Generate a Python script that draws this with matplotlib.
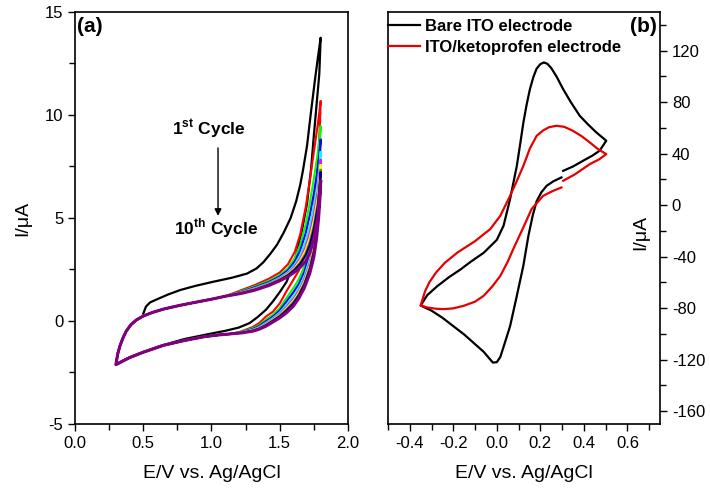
import matplotlib
matplotlib.use('Agg')
import matplotlib.pyplot as plt
from matplotlib.ticker import MultipleLocator, FormatStrFormatter

plt.rcParams['font.family'] = ['Liberation Sans', 'DejaVu Sans']
plt.rcParams['axes.unicode_minus'] = False
plt.rcParams['mathtext.fontset'] = 'custom'
plt.rcParams['mathtext.rm'] = 'Liberation Sans'
plt.rcParams['mathtext.bf'] = 'Liberation Sans:bold'

# ---- panel (a): repeated cycles ----
# 1st cycle (black), starts at 0.5 V
first_e = [0.50, 0.52, 0.55, 0.60, 0.68, 0.77, 0.88, 1.01, 1.15, 1.26, 1.33, 1.38, 1.43, 1.48,
           1.53, 1.58, 1.62, 1.65, 1.67, 1.70, 1.73, 1.76, 1.78, 1.80,
           1.79, 1.77, 1.75, 1.73, 1.70, 1.66, 1.62, 1.58, 1.55, 1.50, 1.45, 1.40, 1.34, 1.28,
           1.20, 1.10, 0.99, 0.80, 0.62, 0.50, 0.40, 0.30,
           0.305, 0.315, 0.33, 0.35, 0.375, 0.41, 0.45, 0.48]
first_i = [0.35, 0.70, 0.90, 1.05, 1.28, 1.50, 1.70, 1.90, 2.10, 2.30, 2.55, 2.85, 3.25, 3.70,
           4.30, 5.00, 5.80, 6.60, 7.30, 8.50, 10.20, 11.80, 12.80, 13.75,
           12.00, 10.50, 9.00, 7.40, 5.70, 4.30, 3.20, 2.40, 1.90, 1.40, 0.95, 0.55, 0.20, -0.10,
           -0.32, -0.48, -0.62, -0.88, -1.22, -1.50, -1.76, -2.10,
           -1.90, -1.55, -1.20, -0.85, -0.50, -0.18, 0.05, 0.15]

# cycles 2..10 share the low-potential part of the loop
low_rev_e = [1.15, 1.05, 0.95, 0.80, 0.65, 0.50, 0.40, 0.30]
low_rev_i = [-0.62, -0.68, -0.76, -0.95, -1.18, -1.52, -1.78, -2.12]
low_fwd_e = [0.305, 0.315, 0.33, 0.35, 0.375, 0.41, 0.45, 0.50, 0.57, 0.65, 0.77, 0.90, 1.01, 1.10]
low_fwd_i = [-1.90, -1.55, -1.20, -0.85, -0.50, -0.18, 0.05, 0.24, 0.42, 0.58, 0.76, 0.93, 1.07, 1.20]

# high-potential arms, one row per cycle (2nd .. 10th)
fwd_e = [1.22, 1.32, 1.42, 1.50, 1.56, 1.61, 1.65, 1.69, 1.72, 1.75, 1.78, 1.80]
fwd_i = [
    [1.50, 1.75, 2.05, 2.35, 2.75, 3.35, 4.20, 5.50, 6.80, 8.20, 9.60, 10.65],
    [1.45, 1.68, 1.95, 2.23, 2.56, 3.05, 3.70, 4.69, 5.72, 6.90, 8.21, 9.43],
    [1.42, 1.64, 1.89, 2.16, 2.46, 2.88, 3.43, 4.25, 5.12, 6.18, 7.44, 8.79],
    [1.40, 1.60, 1.84, 2.10, 2.37, 2.74, 3.19, 3.86, 4.60, 5.55, 6.77, 8.20],
    [1.38, 1.57, 1.81, 2.06, 2.31, 2.64, 3.03, 3.60, 4.25, 5.13, 6.32, 7.80],
    [1.37, 1.55, 1.79, 2.03, 2.28, 2.58, 2.94, 3.45, 4.04, 4.88, 6.05, 7.57],
    [1.36, 1.54, 1.77, 2.01, 2.24, 2.53, 2.84, 3.29, 3.83, 4.63, 5.78, 7.33],
    [1.35, 1.52, 1.76, 1.99, 2.22, 2.49, 2.78, 3.19, 3.69, 4.46, 5.60, 7.20],
    [1.34, 1.50, 1.72, 1.95, 2.15, 2.38, 2.60, 2.90, 3.30, 4.00, 5.10, 6.76],
]
rev_e = [1.80, 1.795, 1.785, 1.77, 1.75, 1.72, 1.68, 1.64, 1.60, 1.55, 1.50, 1.45, 1.40, 1.35,
         1.30, 1.22]
rev_i = [
    [10.65, 9.60, 8.30, 6.90, 5.50, 4.20, 3.10, 2.45, 2.00, 1.45, 0.85, 0.45, 0.22, -0.10, -0.30, -0.50],
    [9.43, 8.48, 7.28, 6.00, 4.76, 3.61, 2.64, 2.03, 1.60, 1.12, 0.63, 0.30, 0.07, -0.19, -0.36, -0.52],
    [8.79, 7.87, 6.72, 5.51, 4.35, 3.29, 2.38, 1.80, 1.39, 0.95, 0.51, 0.21, -0.01, -0.24, -0.40, -0.54],
    [8.20, 7.33, 6.22, 5.07, 3.99, 3.00, 2.16, 1.60, 1.19, 0.79, 0.41, 0.14, -0.08, -0.29, -0.43, -0.55],
    [7.80, 6.97, 5.89, 4.78, 3.75, 2.81, 2.01, 1.46, 1.07, 0.68, 0.34, 0.09, -0.12, -0.32, -0.45, -0.56],
    [7.57, 6.76, 5.69, 4.61, 3.60, 2.70, 1.92, 1.38, 0.99, 0.62, 0.30, 0.06, -0.15, -0.34, -0.46, -0.56],
    [7.33, 6.54, 5.50, 4.44, 3.46, 2.59, 1.83, 1.30, 0.91, 0.56, 0.26, 0.03, -0.18, -0.36, -0.47, -0.57],
    [7.20, 6.40, 5.36, 4.32, 3.36, 2.51, 1.77, 1.25, 0.86, 0.52, 0.23, 0.01, -0.20, -0.37, -0.48, -0.57],
    [6.76, 6.00, 5.00, 4.00, 3.10, 2.30, 1.60, 1.10, 0.72, 0.40, 0.15, -0.05, -0.25, -0.40, -0.50, -0.58],
]
cycle_colors = ['#FF0000', '#00FF00', '#0000FF', '#00FFFF', '#FF00FF',
                '#FFFF00', '#808000', '#000080', '#800080']

# ---- panel (b): bare vs modified electrode ----
bare_e = [0.305, 0.35, 0.396, 0.44, 0.472, 0.503,
          0.457, 0.42, 0.381, 0.34, 0.305, 0.274, 0.25, 0.232, 0.216, 0.20, 0.183, 0.168,
          0.152, 0.137, 0.122, 0.107, 0.092, 0.061, 0.031, 0.0, -0.06, -0.12, -0.167, -0.22,
          -0.274, -0.32, -0.35,
          -0.30, -0.25, -0.20, -0.15, -0.10, -0.06, -0.035, -0.018, 0.0, 0.016, 0.035, 0.061,
          0.09, 0.122, 0.145, 0.165, 0.183, 0.205, 0.229, 0.26, 0.297]
bare_i = [26.6, 30.0, 34.4, 38.5, 42.2, 50.0,
          56.5, 62.5, 69.4, 80.0, 90.0, 100.0, 106.5, 109.8, 110.8, 109.5, 106.0, 99.5,
          90.0, 78.0, 64.0, 47.0, 30.5, 4.7, -16.0, -27.0, -37.0, -44.0, -50.0, -56.0,
          -63.0, -70.0, -78.0,
          -82.0, -87.5, -94.0, -100.5, -108.0, -114.0, -119.0, -122.3, -122.0, -118.0, -108.0, -94.0,
          -72.0, -47.0, -24.0, -8.0, 3.0, 10.0, 15.0, 18.5, 21.5]

keto_e = [0.305, 0.36, 0.427, 0.47, 0.503,
          0.465, 0.427, 0.39, 0.35, 0.31, 0.274, 0.24, 0.213, 0.183, 0.152, 0.122, 0.09, 0.061,
          0.016, -0.03, -0.10, -0.18, -0.24, -0.28, -0.31, -0.33, -0.35,
          -0.319, -0.28, -0.243, -0.20, -0.152, -0.10, -0.06, -0.02, 0.016, 0.05, 0.076, 0.12,
          0.16, 0.213, 0.255, 0.297]
keto_i = [18.9, 24.0, 31.8, 35.5, 39.6,
          43.5, 48.7, 53.5, 57.7, 60.8, 61.6, 60.5, 58.0, 53.8, 44.0, 30.5, 18.0, 7.2,
          -8.3, -18.6, -28.0, -36.7, -45.0, -52.5, -60.0, -67.0, -78.0,
          -79.5, -80.5, -80.8, -80.2, -78.2, -75.0, -70.4, -63.0, -55.0, -44.0, -34.0, -18.0,
          -3.0, 7.2, 10.8, 13.7]


def style_ticks(ax):
	ax.tick_params(which='both', direction='out', labelsize=12, width=1.0)
	ax.tick_params(which='major', length=5)
	ax.tick_params(which='minor', length=4)
	for s in ax.spines.values():
		s.set_linewidth(1.2)


def main():
	fig = plt.figure(figsize=(7.1, 4.93), dpi=100)
	ax1 = fig.add_axes([0.1056, 0.14, 0.3845, 0.8357])
	ax2 = fig.add_axes([0.5465, 0.14, 0.3831, 0.8357])

	# (a)
	ax1.plot(first_e, first_i, color='black', lw=1.6)
	for k, c in enumerate(cycle_colors):
		e = rev_e + low_rev_e + low_fwd_e + fwd_e
		i = rev_i[k] + low_rev_i + low_fwd_i + fwd_i[k]
		lw = 2.2 if k == len(cycle_colors) - 1 else 1.5
		ax1.plot(e, i, color=c, lw=lw)

	ax1.set_xlim(0, 2.0)
	ax1.set_ylim(-5, 15)
	ax1.xaxis.set_major_locator(MultipleLocator(0.5))
	ax1.xaxis.set_minor_locator(MultipleLocator(0.25))
	ax1.xaxis.set_major_formatter(FormatStrFormatter('%.1f'))
	ax1.yaxis.set_major_locator(MultipleLocator(5))
	ax1.yaxis.set_minor_locator(MultipleLocator(2.5))
	style_ticks(ax1)
	ax1.set_xlabel('E/V vs. Ag/AgCl', fontsize=14, labelpad=10)
	ax1.set_ylabel('I/μA', fontsize=14)
	ax1.yaxis.set_label_coords(-0.16, 0.5)

	ax1.text(0.007, 0.965, '(a)', transform=ax1.transAxes, fontsize=15,
	         fontweight='bold', ha='left', va='center')
	ax1.text(0.98, 9.3, r'1$^{\mathbf{st}}$ Cycle', fontsize=12.5, fontweight='bold',
	         ha='center', va='center')
	ax1.text(1.03, 4.5, r'10$^{\mathbf{th}}$ Cycle', fontsize=12.5, fontweight='bold',
	         ha='center', va='center')
	ax1.annotate('', xy=(1.048, 5.1), xytext=(1.048, 8.4),
	             arrowprops=dict(arrowstyle='-|>', color='black', lw=1.0,
	                             mutation_scale=10, shrinkA=0, shrinkB=0))

	# (b)
	ax2.plot(bare_e, bare_i, color='black', lw=1.6, label='Bare ITO electrode')
	ax2.plot(keto_e, keto_i, color='#E60000', lw=1.6, label='ITO/ketoprofen electrode')
	ax2.set_xlim(-0.5, 0.75)
	ax2.set_ylim(-170, 150)
	ax2.xaxis.set_major_locator(MultipleLocator(0.2))
	ax2.xaxis.set_minor_locator(MultipleLocator(0.1))
	ax2.xaxis.set_major_formatter(FormatStrFormatter('%.1f'))
	ax2.yaxis.tick_right()
	ax2.yaxis.set_minor_locator(MultipleLocator(20))
	ax2.set_yticks(range(-160, 121, 40))
	style_ticks(ax2)
	ax2.set_xlabel('E/V vs. Ag/AgCl', fontsize=14, labelpad=10)
	ax2.yaxis.set_label_position('right')
	ax2.set_ylabel('I/μA', fontsize=14, rotation=90)
	ax2.yaxis.set_label_coords(0.897, 0.466)

	ax2.text(0.989, 0.965, '(b)', transform=ax2.transAxes, fontsize=15,
	         fontweight='bold', ha='right', va='center')
	ax2.legend(loc='upper left', bbox_to_anchor=(0.0, 0.983), frameon=False,
	           borderaxespad=0, borderpad=0, handlelength=1.9, handletextpad=0.3,
	           labelspacing=0.35, prop={'weight': 'bold', 'size': 12})

	fig.savefig('out.png', dpi=100)


if __name__ == '__main__':
	main()
